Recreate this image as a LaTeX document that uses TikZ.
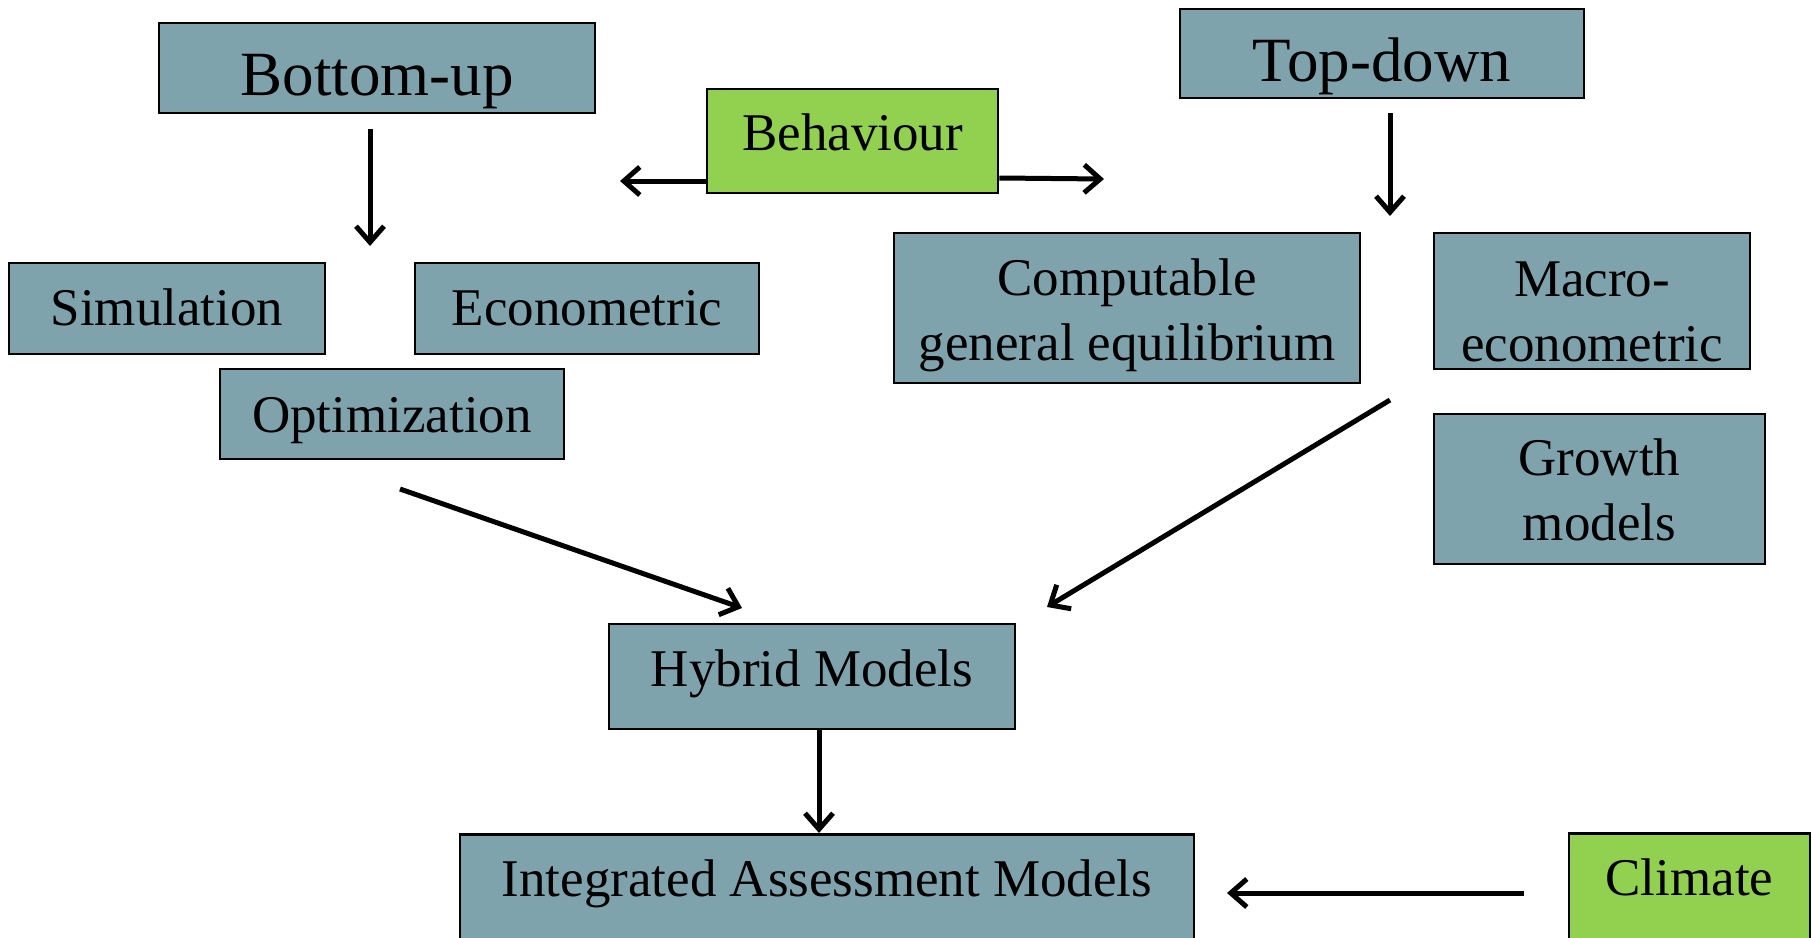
\documentclass[tikz,border=0pt]{standalone}
\usepackage{fontspec}
\setmainfont{Liberation Serif}
\usetikzlibrary{arrows.meta}
\definecolor{boxblue}{HTML}{7FA3AD}
\definecolor{boxgreen}{HTML}{92D050}
\tikzset{
  box/.style={draw=black, line width=2.8pt, fill=boxblue, align=center, inner sep=0pt,
    font=\fontsize{53}{65}\selectfont},
  gbox/.style={box, fill=boxgreen},
  title/.style={box, font=\fontsize{63}{76}\selectfont},
  conn/.style={line width=5pt, -{Straight Barb[length=16pt,width=28pt,line width=5pt]}},
}
\begin{document}
\begin{tikzpicture}[x=1pt,y=-1pt]
\useasboundingbox (0,0) rectangle (1812,937);
\node[title, minimum width=436pt, minimum height=90pt, text height=54pt, text depth=0pt] (bu) at (377,68) {Bottom-up};
\node[title, minimum width=404pt, minimum height=89pt, text height=55pt, text depth=0pt] (td) at (1382,53.5) {Top-down};
\node[gbox, minimum width=291pt, minimum height=104pt, text height=18pt, text depth=0pt] (beh) at (852.5,141) {Behaviour};
\node[box, minimum width=316pt, minimum height=91pt, text height=34pt, text depth=0pt] (sim) at (167,308.5) {Simulation};
\node[box, minimum width=344pt, minimum height=91pt, text height=34pt, text depth=0pt] (eco) at (587,308.5) {Econometric};
\node[box, minimum width=344pt, minimum height=90pt, text height=36pt, text depth=0pt] (opt) at (392,414) {Optimization};
\node[box, minimum width=466pt, minimum height=150pt] (cge) at (1127,308) {\rule{0pt}{52pt}Computable\\general equilibrium};
\node[box, minimum width=316pt, minimum height=136pt] (mac) at (1592,301) {\rule{0pt}{56pt}Macro-\\econometric};
\node[box, minimum width=331pt, minimum height=150pt] (gro) at (1599.5,489) {\rule{0pt}{38pt}Growth\\models};
\node[box, minimum width=406pt, minimum height=105pt, text height=19pt, text depth=0pt] (hyb) at (812,676.5) {Hybrid Models};
\node[box, anchor=north, minimum width=734pt, text height=62pt, text depth=70pt] (iam) at (827,833) {Integrated Assessment Models};
\node[gbox, anchor=north, minimum width=241pt, text height=62pt, text depth=70pt] (cli) at (1689.5,832) {Climate};

\coordinate (bua) at (370,129);
\coordinate (bub) at (370,246);
\coordinate (tda) at (1390,113);
\coordinate (tdb) at (1390,216);
\coordinate (behl) at (620,181);
\coordinate (behr) at (1104,179);
\coordinate (opta) at (400,489);
\coordinate (optb) at (742,608);
\coordinate (cgea) at (1390,400);
\coordinate (cgeb) at (1047,607);
\coordinate (clia) at (1524,893);
\coordinate (clib) at (1227,893);

\draw[conn] (bua) -- (bub);
\draw[conn] (tda) -- (tdb);
\draw[conn] (beh.west |- 0,181) -- (behl);
\draw[conn] (beh.east |- 0,178) -- (behr);
\draw[conn] (opta) -- (optb);
\draw[conn] (cgea) -- (cgeb);
\draw[conn] (hyb.south -| 819,0) -- (iam.north -| 819,0);
\draw[conn] (clia) -- (clib);
\end{tikzpicture}
\end{document}
